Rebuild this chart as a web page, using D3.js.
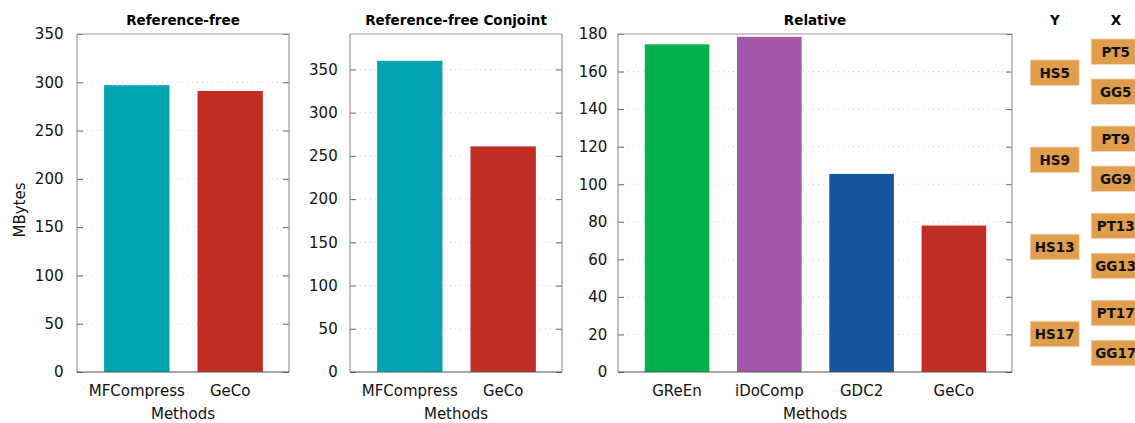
<!DOCTYPE html>
<html>
<head>
<meta charset="utf-8">
<script src="https://cdn.jsdelivr.net/npm/d3@7"></script>
<style>
  html, body { margin: 0; padding: 0; background: #fff; }
  svg { display: block; font-family: "DejaVu Sans", sans-serif; }
</style>
</head>
<body>
<svg id="chart" width="1135" height="423"></svg>
<script>
// Compressed sizes (MBytes) per method
const freeMethods = ["MFCompress", "GeCo"];
const freeValues = [297, 291];
const conjointMethods = ["MFCompress", "GeCo"];
const conjointValues = [360, 261];
const relativeMethods = ["GReEn", "iDoComp", "GDC2", "GeCo"];
const relativeValues = [174.5, 178.5, 105.5, 78];

const freeTicks = [0, 50, 100, 150, 200, 250, 300, 350];
const conjointTicks = [0, 50, 100, 150, 200, 250, 300, 350];
const relativeTicks = [0, 20, 40, 60, 80, 100, 120, 140, 160, 180];

// Sequence pairings shown at the right
const targetSeqs = ["HS5", "HS9", "HS13", "HS17"];
const referenceSeqs = [["PT5", "GG5"], ["PT9", "GG9"], ["PT13", "GG13"], ["PT17", "GG17"]];

const methodColor = {
  MFCompress: "#02a4b2",
  GeCo: "#c02d23",
  GReEn: "#00b04a",
  iDoComp: "#a256a7",
  GDC2: "#14579e"
};

const svg = d3.select("#chart");
const plotTop = 34, plotBottom = 372;
const labelSize = 15;

function drawPanel(opts) {
  const g = svg.append("g");
  const x = d3.scaleLinear()
    .domain([-0.64, opts.methods.length - 0.37])
    .range([opts.left, opts.right]);
  const y = d3.scaleLinear().domain([0, opts.yMax]).range([plotBottom, plotTop]);
  const barW = x(0.35) - x(-0.35);

  // dotted grid
  g.append("g").selectAll("line")
    .data(opts.ticks.filter(t => t > 0 && y(t) > plotTop + 1))
    .join("line")
    .attr("x1", opts.left).attr("x2", opts.right)
    .attr("y1", d => y(d)).attr("y2", d => y(d))
    .attr("stroke", "#d6d6d6").attr("stroke-width", 1)
    .attr("stroke-dasharray", "1,4");

  // bars
  g.append("g").selectAll("rect")
    .data(opts.methods.map((m, i) => ({ m, v: opts.values[i], i })))
    .join("rect")
    .attr("x", d => x(d.i) - barW / 2)
    .attr("width", barW)
    .attr("y", d => y(d.v))
    .attr("height", d => y(0) - y(d.v))
    .attr("fill", d => methodColor[d.m]);

  // left axis with inward ticks
  const yAxis = d3.axisLeft(y).tickValues(opts.ticks).tickSize(-6).tickPadding(opts.labelPad)
    .tickFormat(d3.format("d"));
  const ya = g.append("g").attr("transform", `translate(${opts.left},0)`).call(yAxis);
  ya.select(".domain").remove();
  ya.selectAll(".tick line").attr("stroke", "#666");
  ya.selectAll(".tick text").attr("font-size", labelSize).attr("fill", "#111")
    .attr("font-family", "DejaVu Sans, sans-serif");

  // mirrored ticks on the right
  const yr = g.append("g").attr("transform", `translate(${opts.right},0)`)
    .call(d3.axisRight(y).tickValues(opts.ticks).tickSize(-6).tickFormat(""));
  yr.select(".domain").remove();
  yr.selectAll(".tick line").attr("stroke", "#666");

  // border
  g.append("path")
    .attr("d", `M${opts.left},${plotBottom}V${plotTop}H${opts.right}V${plotBottom}`)
    .attr("fill", "none").attr("stroke", "#999").attr("stroke-width", 1.2);
  g.append("line")
    .attr("x1", opts.left).attr("x2", opts.right)
    .attr("y1", plotBottom).attr("y2", plotBottom)
    .attr("stroke", "#555").attr("stroke-width", 1.2);

  // category labels
  g.append("g").selectAll("text")
    .data(opts.methods)
    .join("text")
    .attr("x", (d, i) => x(i))
    .attr("y", 396)
    .attr("text-anchor", "middle")
    .attr("font-size", labelSize).attr("fill", "#111")
    .text(d => d);

  g.append("text")
    .attr("x", (opts.left + opts.right) / 2).attr("y", 419)
    .attr("text-anchor", "middle").attr("font-size", labelSize).attr("fill", "#111")
    .text("Methods");

  g.append("text")
    .attr("x", (opts.left + opts.right) / 2).attr("y", 25)
    .attr("text-anchor", "middle").attr("font-size", 13.5)
    .attr("font-weight", "bold").attr("fill", "#000")
    .text(opts.title);
}

drawPanel({ title: "Reference-free", methods: freeMethods, values: freeValues,
  ticks: freeTicks, yMax: 350, left: 77, right: 289, labelPad: 13.5 });
drawPanel({ title: "Reference-free Conjoint", methods: conjointMethods, values: conjointValues,
  ticks: conjointTicks, yMax: 391, left: 350, right: 562, labelPad: 12.3 });
drawPanel({ title: "Relative", methods: relativeMethods, values: relativeValues,
  ticks: relativeTicks, yMax: 180, left: 618, right: 1012, labelPad: 10.6 });

svg.append("text")
  .attr("transform", "translate(24.5,210) rotate(-90)")
  .attr("text-anchor", "middle").attr("font-size", labelSize).attr("fill", "#111")
  .text("MBytes");

// pairing boxes
const legend = svg.append("g");
const rowY = d3.scalePoint().domain(targetSeqs).range([72.7, 334]);
const boxW = 49, boxH = 25.5;
const orange = "#e09e4c";

legend.append("text").attr("x", 1055).attr("y", 25).attr("text-anchor", "middle")
  .attr("font-size", 13.5).attr("font-weight", "bold").text("Y");
legend.append("text").attr("x", 1116).attr("y", 25).attr("text-anchor", "middle")
  .attr("font-size", 13.5).attr("font-weight", "bold").text("X");

function box(cx, cy, label) {
  legend.append("rect")
    .attr("x", cx - boxW / 2).attr("y", cy - boxH / 2)
    .attr("width", boxW).attr("height", boxH)
    .attr("fill", orange).attr("stroke", "#f3d7b3").attr("stroke-width", 0.8);
  legend.append("text")
    .attr("x", cx).attr("y", cy + 5)
    .attr("text-anchor", "middle").attr("font-size", 13.5)
    .attr("font-weight", "bold").attr("fill", "#111")
    .text(label);
}

targetSeqs.forEach((s, i) => {
  const cy = rowY(s);
  box(1054.7, cy, s);
  box(1115.7, cy - 21, referenceSeqs[i][0]);
  box(1115.7, cy + 19, referenceSeqs[i][1]);
});
</script>
</body>
</html>
